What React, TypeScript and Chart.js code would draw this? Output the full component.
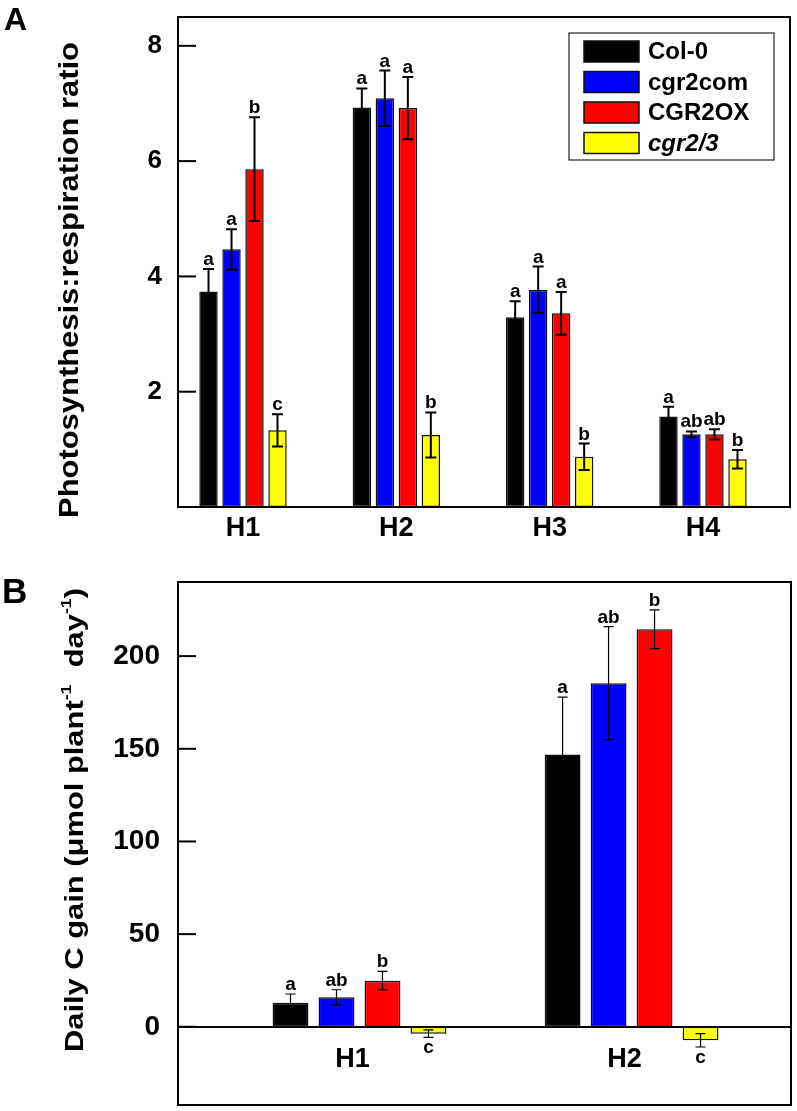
import React, { useEffect, useRef } from 'react';
import { Chart, registerables } from 'chart.js';

Chart.register(...registerables);

const FONT = '"Liberation Sans", Arial, Helvetica, sans-serif';

// ---- series meta ----
const seriesNames = ['Col-0', 'cgr2com', 'CGR2OX', 'cgr2/3'];
const seriesColors = ['#000000', '#0000ff', '#ff0000', '#ffff00'];
const seriesItalic = [false, false, false, true];

// ---- Panel A: Photosynthesis:respiration ratio ----
const catsA = ['H1', 'H2', 'H3', 'H4'];
const col0A = [3.74, 6.93, 3.29, 1.57];
const comA = [4.47, 7.09, 3.77, 1.26];
const oxA = [5.86, 6.92, 3.36, 1.26];
const mutA = [1.33, 1.25, 0.87, 0.83];
const col0AErr = [0.39, 0.33, 0.28, 0.17];
const comAErr = [0.35, 0.48, 0.4, 0.05];
const oxAErr = [0.9, 0.54, 0.37, 0.09];
const mutAErr = [0.28, 0.39, 0.23, 0.16];
const col0ALet = ['a', 'a', 'a', 'a'];
const comALet = ['a', 'a', 'a', 'ab'];
const oxALet = ['b', 'a', 'a', 'ab'];
const mutALet = ['c', 'b', 'b', 'b'];
const ticksA = [2, 4, 6, 8];

// ---- Panel B: Daily C gain ----
const catsB = ['H1', 'H2'];
const col0B = [13.0, 146.9];
const comB = [15.9, 185.4];
const oxB = [24.9, 214.5];
const mutB = [-3.7, -7.3];
const col0BErr = [4.7, 31];
const comBErr = [4.1, 30.5];
const oxBErr = [5.0, 10.5];
const mutBErr = [2.0, 3.6];
const col0BLet = ['a', 'a'];
const comBLet = ['ab', 'ab'];
const oxBLet = ['b', 'b'];
const mutBLet = ['c', 'c'];
const ticksB = [0, 50, 100, 150, 200];

type Seg = { t: string; size: number; rise?: number };

function drawVTitle(ctx: CanvasRenderingContext2D, segs: Seg[], baseX: number, centerY: number, targetLen: number) {
  ctx.save();
  let total = 0;
  const widths = segs.map((s) => {
    ctx.font = `bold ${s.size}px ${FONT}`;
    const w = ctx.measureText(s.t).width;
    total += w;
    return w;
  });
  const sx = targetLen / total;
  ctx.translate(baseX, centerY);
  ctx.rotate(-Math.PI / 2);
  ctx.scale(sx, 1);
  ctx.fillStyle = '#000';
  ctx.textBaseline = 'alphabetic';
  ctx.textAlign = 'left';
  let x = -total / 2;
  segs.forEach((s, k) => {
    ctx.font = `bold ${s.size}px ${FONT}`;
    ctx.fillText(s.t, x, -(s.rise || 0));
    x += widths[k];
  });
  ctx.restore();
}

function makeDecor(cfg: {
  errs: number[][];
  letters: string[][];
  errWidth: number;
  cap: number;
  letterSize: number;
  tickLen: number;
  legend: boolean;
  panel: string;
  panelSize: number;
  panelPos: [number, number];
  title: Seg[];
  titleX: number;
  titleY: number;
  titleLen: number;
}) {
  return {
    id: 'decor' + cfg.panel,
    afterDatasetsDraw(chart: any) {
      const ctx: CanvasRenderingContext2D = chart.ctx;
      const ys = chart.scales.y;
      const area = chart.chartArea;
      // error bars + letters
      chart.data.datasets.forEach((ds: any, i: number) => {
        const meta = chart.getDatasetMeta(i);
        meta.data.forEach((el: any, j: number) => {
          const v = ds.data[j].y;
          const e = cfg.errs[i][j];
          const x = el.x;
          const yt = ys.getPixelForValue(v + e);
          const yb = ys.getPixelForValue(v - e);
          ctx.save();
          ctx.strokeStyle = '#000';
          ctx.lineWidth = cfg.errWidth;
          ctx.beginPath();
          ctx.moveTo(x, yt);
          ctx.lineTo(x, yb);
          ctx.moveTo(x - cfg.cap, yt);
          ctx.lineTo(x + cfg.cap, yt);
          ctx.moveTo(x - cfg.cap, yb);
          ctx.lineTo(x + cfg.cap, yb);
          ctx.stroke();
          ctx.fillStyle = '#000';
          ctx.font = `bold ${cfg.letterSize}px ${FONT}`;
          ctx.textAlign = 'center';
          ctx.textBaseline = 'alphabetic';
          const L = cfg.letters[i][j];
          if (v >= 0) ctx.fillText(L, x, yt - 4);
          else ctx.fillText(L, x, yb + 16);
          ctx.restore();
        });
      });
      // frame
      ctx.save();
      ctx.strokeStyle = '#000';
      ctx.lineWidth = 2;
      ctx.strokeRect(area.left, area.top, area.right - area.left, area.bottom - area.top);
      // inner ticks
      ys.ticks.forEach((t: any) => {
        const py = ys.getPixelForValue(t.value);
        ctx.beginPath();
        ctx.moveTo(area.left, py);
        ctx.lineTo(area.left + cfg.tickLen, py);
        ctx.stroke();
      });
      ctx.restore();
    },
    afterDraw(chart: any) {
      const ctx: CanvasRenderingContext2D = chart.ctx;
      const area = chart.chartArea;
      // legend
      if (cfg.legend) {
        ctx.save();
        const left = area.right - 221;
        const top = area.top + 16;
        ctx.fillStyle = '#fff';
        ctx.fillRect(left, top, 205, 127);
        ctx.strokeStyle = '#222';
        ctx.lineWidth = 1.2;
        ctx.strokeRect(left, top, 205, 127);
        chart.data.datasets.forEach((ds: any, i: number) => {
          const sy = top + 8 + i * 30.5;
          ctx.fillStyle = ds.backgroundColor;
          ctx.fillRect(left + 15, sy, 55, 21);
          ctx.strokeStyle = '#111';
          ctx.lineWidth = 1.5;
          ctx.strokeRect(left + 15, sy, 55, 21);
          ctx.fillStyle = '#000';
          ctx.font = `${seriesItalic[i] ? 'italic ' : ''}bold 24px ${FONT}`;
          ctx.textAlign = 'left';
          ctx.textBaseline = 'middle';
          ctx.fillText(ds.label, left + 79, sy + 11.5);
        });
        ctx.restore();
      }
      // panel letter
      ctx.save();
      ctx.fillStyle = '#000';
      ctx.font = `bold ${cfg.panelSize}px ${FONT}`;
      ctx.textAlign = 'left';
      ctx.textBaseline = 'alphabetic';
      ctx.fillText(cfg.panel, cfg.panelPos[0], cfg.panelPos[1]);
      ctx.restore();
      // y title
      drawVTitle(ctx, cfg.title, cfg.titleX, cfg.titleY, cfg.titleLen);
    },
  };
}

function buildDatasets(cats: string[], values: number[][], cp: number, bp: number) {
  return values.map((vals, i) => ({
    label: seriesNames[i],
    data: cats.map((_, j) => ({ x: j + 1, y: vals[j] })),
    backgroundColor: seriesColors[i],
    borderColor: '#111111',
    borderWidth: 1.5,
    borderSkipped: false as any,
    categoryPercentage: cp,
    barPercentage: bp,
  }));
}

const zeroPad = (s: any) => {
  s.paddingTop = 0;
  s.paddingBottom = 0;
  s.paddingLeft = 0;
  s.paddingRight = 0;
};

export default function App() {
  const refA = useRef<HTMLCanvasElement>(null);
  const refB = useRef<HTMLCanvasElement>(null);

  useEffect(() => {
    const tickFont = (size: number) => ({ size, weight: 'bold' as any, family: FONT });

    const chartA = new Chart(refA.current as HTMLCanvasElement, {
      type: 'bar',
      data: { datasets: buildDatasets(catsA, [col0A, comA, oxA, mutA], 0.6, 0.8) as any },
      options: {
        animation: false,
        responsive: false,
        devicePixelRatio: 1,
        events: [],
        layout: { padding: { left: 0, top: 17, right: 7, bottom: 0 } },
        plugins: { legend: { display: false }, tooltip: { enabled: false } },
        scales: {
          x: {
            type: 'linear',
            min: 0.576,
            max: 4.5675,
            offset: false,
            grid: { display: false, drawTicks: false, offset: false },
            border: { display: false },
            afterBuildTicks: (s: any) => {
              s.ticks = catsA.map((_, i) => ({ value: i + 1 }));
            },
            afterFit: (s: any) => {
              s.height = 53;
              zeroPad(s);
            },
            ticks: {
              autoSkip: false,
              maxRotation: 0,
              padding: 5,
              color: '#000',
              font: tickFont(27),
              callback: (v: any) => catsA[Math.round(Number(v)) - 1],
            },
          },
          y: {
            min: 0,
            max: 8.5,
            grid: { display: false, drawTicks: false },
            border: { display: false },
            afterBuildTicks: (s: any) => {
              s.ticks = ticksA.map((v) => ({ value: v }));
            },
            afterFit: (s: any) => {
              s.width = 178;
              zeroPad(s);
            },
            ticks: { padding: 16, color: '#000', font: tickFont(26), callback: (v: any) => String(v) },
          },
        },
      } as any,
      plugins: [
        makeDecor({
          errs: [col0AErr, comAErr, oxAErr, mutAErr],
          letters: [col0ALet, comALet, oxALet, mutALet],
          errWidth: 2,
          cap: 5.5,
          letterSize: 19,
          tickLen: 18,
          legend: true,
          panel: 'A',
          panelSize: 32,
          panelPos: [4, 30],
          title: [{ t: 'Photosynthesis:respiration ratio', size: 27 }],
          titleX: 77.5,
          titleY: 280,
          titleLen: 476,
        }) as any,
      ],
    });

    const chartB = new Chart(refB.current as HTMLCanvasElement, {
      type: 'bar',
      data: { datasets: buildDatasets(catsB, [col0B, comB, oxB, mutB], 0.676, 0.78) as any },
      options: {
        animation: false,
        responsive: false,
        devicePixelRatio: 1,
        events: [],
        layout: { padding: { left: 0, top: 22, right: 6, bottom: 6 } },
        plugins: { legend: { display: false }, tooltip: { enabled: false } },
        scales: {
          x: {
            type: 'linear',
            position: { y: 0 },
            min: 0.333,
            max: 2.586,
            offset: false,
            grid: { display: false, drawTicks: false, offset: false },
            border: { display: true, width: 2, color: '#000' },
            afterBuildTicks: (s: any) => {
              s.ticks = catsB.map((_, i) => ({ value: i + 1 }));
            },
            afterFit: (s: any) => {
              zeroPad(s);
            },
            ticks: {
              autoSkip: false,
              maxRotation: 0,
              padding: 17,
              labelOffset: -7,
              color: '#000',
              font: tickFont(27),
              callback: (v: any) => catsB[Math.round(Number(v)) - 1],
            },
          },
          y: {
            min: -42.2,
            max: 240,
            grid: { display: false, drawTicks: false },
            border: { display: false },
            afterBuildTicks: (s: any) => {
              s.ticks = ticksB.map((v) => ({ value: v }));
            },
            afterFit: (s: any) => {
              s.width = 178;
              zeroPad(s);
            },
            ticks: { padding: 18, color: '#000', font: tickFont(28), callback: (v: any) => String(v) },
          },
        },
      } as any,
      plugins: [
        makeDecor({
          errs: [col0BErr, comBErr, oxBErr, mutBErr],
          letters: [col0BLet, comBLet, oxBLet, mutBLet],
          errWidth: 1.2,
          cap: 5,
          letterSize: 19,
          tickLen: 18,
          legend: false,
          panel: 'B',
          panelSize: 35,
          panelPos: [2, 43],
          title: [
            { t: 'Daily C gain (\u03bcmol plant', size: 26 },
            { t: '-1', size: 15, rise: 12 },
            { t: '  day', size: 26 },
            { t: '-1', size: 15, rise: 12 },
            { t: ')', size: 26 },
          ],
          titleX: 82.8,
          titleY: 260,
          titleLen: 464,
        }) as any,
      ],
    });

    return () => {
      chartA.destroy();
      chartB.destroy();
    };
  }, []);

  return (
    <div style={{ position: 'absolute', left: 0, top: 0, width: 797, height: 1111, background: '#fff' }}>
      <canvas ref={refA} width={797} height={560} style={{ display: 'block' }} />
      <canvas ref={refB} width={797} height={551} style={{ display: 'block' }} />
    </div>
  );
}
